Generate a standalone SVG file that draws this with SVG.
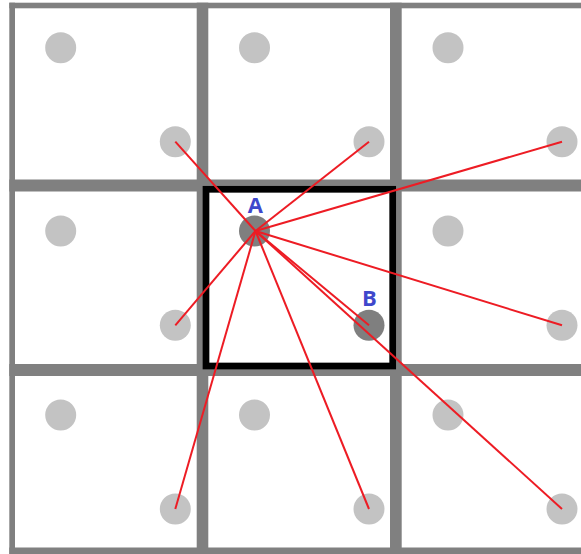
<svg xmlns="http://www.w3.org/2000/svg" width="581" height="554" viewBox="0 0 581 554">
<style>
.grid{fill:#808080}
.dot{fill:#c3c3c3}
.key{fill:#7f7f7f}
.lbl{font-family:"Open Sans","DejaVu Sans",sans-serif;font-weight:bold;font-size:22px;fill:#3f48cc;text-anchor:middle}
.ln{stroke:#ed1c24;stroke-width:2;fill:none}
</style>
<rect width="581" height="554" fill="#ffffff"/>
<g id="grid">
<rect class="grid" x="9.3" y="2.7" width="572" height="5.6"/>
<rect class="grid" x="9.3" y="179.5" width="572" height="12"/>
<rect class="grid" x="9.3" y="364" width="572" height="12"/>
<rect class="grid" x="9.3" y="547.5" width="572" height="7"/>
<rect class="grid" x="9.3" y="2.7" width="5.7" height="552"/>
<rect class="grid" x="196.7" y="2.7" width="11.6" height="552"/>
<rect class="grid" x="390" y="2.7" width="11.7" height="552"/>
</g>
<g id="center-cell">
<rect x="206" y="189.3" width="186.7" height="176.7" fill="none" stroke="#000000" stroke-width="6.7"/>
</g>
<g id="nodes">
<g id="ul-1-1"><circle class="dot" cx="60.7" cy="47.7" r="15.5"/></g>
<g id="ul-1-2"><circle class="dot" cx="254.5" cy="47.7" r="15.5"/></g>
<g id="ul-1-3"><circle class="dot" cx="448" cy="47.7" r="15.5"/></g>
<g id="ul-2-1"><circle class="dot" cx="60.7" cy="231" r="15.5"/></g>
<g id="ul-2-3"><circle class="dot" cx="448" cy="231" r="15.5"/></g>
<g id="ul-3-1"><circle class="dot" cx="60.7" cy="415" r="15.5"/></g>
<g id="ul-3-2"><circle class="dot" cx="254.5" cy="415" r="15.5"/></g>
<g id="ul-3-3"><circle class="dot" cx="448" cy="415" r="15.5"/></g>
<g id="lr-1-1"><circle class="dot" cx="175.3" cy="141.7" r="15.5"/></g>
<g id="lr-1-2"><circle class="dot" cx="369" cy="141.7" r="15.5"/></g>
<g id="lr-1-3"><circle class="dot" cx="562" cy="141.7" r="15.5"/></g>
<g id="lr-2-1"><circle class="dot" cx="175.3" cy="325.3" r="15.5"/></g>
<g id="lr-2-3"><circle class="dot" cx="562" cy="325.3" r="15.5"/></g>
<g id="lr-3-1"><circle class="dot" cx="175.3" cy="509" r="15.5"/></g>
<g id="lr-3-2"><circle class="dot" cx="369" cy="509" r="15.5"/></g>
<g id="lr-3-3"><circle class="dot" cx="562" cy="509" r="15.5"/></g>
<g id="A"><circle class="key" cx="254.5" cy="231" r="15.5"/><text class="lbl" x="255.3" y="212.7">A</text></g>
<g id="B"><circle class="key" cx="369" cy="325.3" r="15.5"/><text class="lbl" x="369.3" y="306">B</text></g>
</g>
<g id="connectors">
<line class="ln" x1="255.5" y1="231" x2="175.3" y2="141.7"/>
<line class="ln" x1="255.5" y1="231" x2="369" y2="141.7"/>
<line class="ln" x1="255.5" y1="231" x2="562" y2="141.7"/>
<line class="ln" x1="255.5" y1="231" x2="175.3" y2="325.3"/>
<line class="ln" x1="255.5" y1="231" x2="369" y2="325.3"/>
<line class="ln" x1="255.5" y1="231" x2="562" y2="325.3"/>
<line class="ln" x1="255.5" y1="231" x2="175.3" y2="509"/>
<line class="ln" x1="255.5" y1="231" x2="369" y2="509"/>
<line class="ln" x1="255.5" y1="231" x2="562" y2="509"/>
</g>
</svg>
